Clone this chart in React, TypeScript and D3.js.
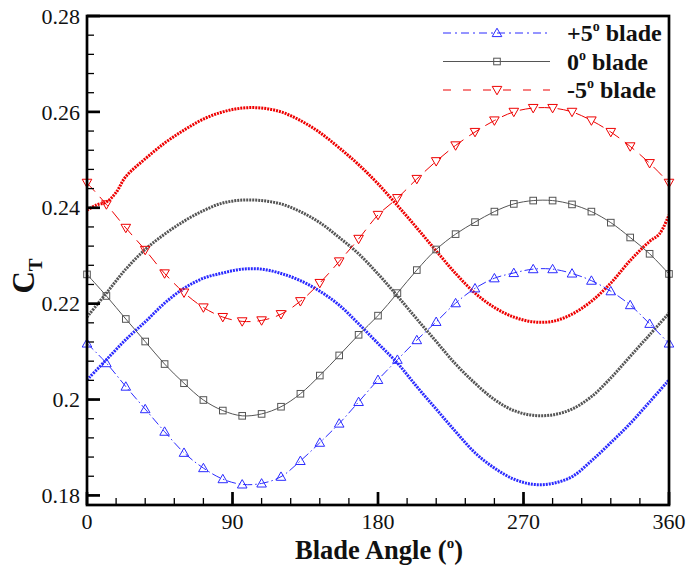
import React from "react";
import * as d3 from "d3";

// ---------- data ----------
const markerAngles = [0, 12, 24, 36, 48, 60, 72, 84, 96, 108, 120, 132, 144, 156, 168, 180, 192, 204, 216, 228, 240, 252, 264, 276, 288, 300, 312, 324, 336, 348, 360];

const plus5Blade = [0.2117, 0.2076, 0.2027, 0.198, 0.1933, 0.1889, 0.1857, 0.1834, 0.1823, 0.1825, 0.1839, 0.1872, 0.191, 0.195, 0.1995, 0.2041, 0.2083, 0.2124, 0.2162, 0.2201, 0.2232, 0.2253, 0.2264, 0.2272, 0.2272, 0.2263, 0.2248, 0.2226, 0.2197, 0.2158, 0.2117];
const zeroBlade = [0.2261, 0.2216, 0.2168, 0.2121, 0.2074, 0.2034, 0.1999, 0.1977, 0.1966, 0.197, 0.1985, 0.2012, 0.205, 0.2092, 0.2135, 0.2175, 0.2222, 0.227, 0.2313, 0.2345, 0.237, 0.2392, 0.2408, 0.2415, 0.2415, 0.2407, 0.2392, 0.2369, 0.2338, 0.2304, 0.2262];
const minus5Blade = [0.2452, 0.2407, 0.2358, 0.2312, 0.2263, 0.2223, 0.2192, 0.2172, 0.2163, 0.2165, 0.2178, 0.2205, 0.2243, 0.2288, 0.2335, 0.2385, 0.242, 0.246, 0.2497, 0.253, 0.2558, 0.2582, 0.26, 0.2608, 0.2608, 0.26, 0.2582, 0.2558, 0.2528, 0.2493, 0.2452];

const blueThickAngles = [0, 12, 24, 36, 48, 60, 72, 84, 96, 108, 120, 132, 144, 156, 168, 180, 192, 204, 216, 228, 240, 252, 264, 276, 288, 300, 312, 324, 336, 348, 360];
const blueThick = [0.2041, 0.2083, 0.2125, 0.2162, 0.2201, 0.2232, 0.2253, 0.2264, 0.2272, 0.2272, 0.2263, 0.2248, 0.2226, 0.2197, 0.2158, 0.2117, 0.2076, 0.2027, 0.198, 0.1933, 0.1889, 0.1857, 0.1834, 0.1823, 0.1825, 0.1839, 0.1872, 0.191, 0.195, 0.1995, 0.2041];

const grayThickAngles = [0, 12, 24, 36, 48, 60, 72, 84, 96, 108, 120, 132, 144, 156, 168, 180, 192, 204, 216, 228, 240, 252, 264, 276, 288, 300, 312, 324, 336, 348, 360];
const grayThick = [0.2172, 0.2222, 0.2272, 0.2313, 0.2345, 0.2372, 0.2394, 0.241, 0.2416, 0.2415, 0.2408, 0.2392, 0.2369, 0.2338, 0.2304, 0.2262, 0.2216, 0.2168, 0.2121, 0.2074, 0.2034, 0.2, 0.1977, 0.1967, 0.1968, 0.198, 0.2006, 0.2045, 0.209, 0.2135, 0.218];

const redThickAngles = [0, 6, 12, 18, 24, 36, 48, 60, 72, 84, 96, 108, 120, 132, 144, 156, 168, 180, 192, 204, 216, 228, 240, 252, 264, 276, 288, 300, 312, 324, 336, 348, 354, 360];
const redThick = [0.2395, 0.2406, 0.2412, 0.2432, 0.2465, 0.2502, 0.2535, 0.2562, 0.2585, 0.26, 0.2608, 0.2608, 0.26, 0.2582, 0.2557, 0.2525, 0.249, 0.245, 0.2405, 0.2358, 0.231, 0.2263, 0.2222, 0.2192, 0.2172, 0.2162, 0.2163, 0.2178, 0.2205, 0.2243, 0.229, 0.233, 0.2345, 0.2385];

const xTicks = [0, 90, 180, 270, 360];
const yTicks = [0.18, 0.2, 0.22, 0.24, 0.26, 0.28];
const yTickLabels = ["0.18", "0.2", "0.22", "0.24", "0.26", "0.28"];
const legendLabels = ["+5", "0", "-5"];

// ---------- layout ----------
const W = 692, H = 571;
const X0 = 87, X1 = 669, Y0 = 505, Y1 = 16;
const BLUE = "#2b2bff", GRAY = "#555555", RED = "#ee0000";
const SERIF = "'Liberation Serif', 'Times New Roman', serif";

export default function App() {
  const x = d3.scaleLinear().domain([0, 360]).range([X0, X1]);
  const y = d3.scaleLinear().domain([0.178, 0.28]).range([Y0, Y1]);
  const line = (angles: number[], vals: number[]) =>
    d3.line<number>().x((_, i) => x(angles[i])).y((v) => y(v)).curve(d3.curveCatmullRom.alpha(0.5))(vals) || "";

  const xMinor = d3.range(0, 361, 18);
  const yMinor = d3.range(0, 26).map((i) => 0.18 + i * 0.004).filter((v) => v <= 0.2801);

  const tri = (cx: number, cy: number, up: boolean, color: string, key: any) => {
    const s = 4.8;
    const pts = up
      ? [[cx, cy - s], [cx - s, cy + s * 0.75], [cx + s, cy + s * 0.75]]
      : [[cx, cy + s], [cx - s, cy - s * 0.75], [cx + s, cy - s * 0.75]];
    return <polygon key={key} points={pts.map((p) => p.join(",")).join(" ")} fill="none" stroke={color} strokeWidth={1} />;
  };
  const sq = (cx: number, cy: number, key: any) => (
    <rect key={key} x={cx - 3.3} y={cy - 3.3} width={6.6} height={6.6} fill="none" stroke={GRAY} strokeWidth={1} />
  );

  const legendRows = [
    { label: legendLabels[0], color: BLUE, dash: "8 4 2 4", marker: "up" },
    { label: legendLabels[1], color: GRAY, dash: "", marker: "sq" },
    { label: legendLabels[2], color: RED, dash: "8 12", marker: "down" },
  ];

  return (
    <svg width={W} height={H} style={{ position: "absolute", left: 0, top: 0, background: "#fff" }}>
      <defs>
        <clipPath id="plot">
          <rect x={X0} y={Y1} width={X1 - X0} height={Y0 - Y1} />
        </clipPath>
      </defs>
      <g clipPath="url(#plot)">
        {/* thick dotted curves */}
        <path d={line(blueThickAngles, blueThick)} fill="none" stroke={BLUE} strokeWidth={3} strokeDasharray="2 1" />
        <path d={line(grayThickAngles, grayThick)} fill="none" stroke={GRAY} strokeWidth={3} strokeDasharray="2 1" />
        <path d={line(redThickAngles, redThick)} fill="none" stroke={RED} strokeWidth={3} strokeDasharray="2 1" />
        {/* marker curves */}
        <path d={line(markerAngles, plus5Blade)} fill="none" stroke={BLUE} strokeWidth={1} strokeDasharray="9 3 1.5 3" />
        <path d={line(markerAngles, zeroBlade)} fill="none" stroke={GRAY} strokeWidth={1} />
        <path d={line(markerAngles, minus5Blade)} fill="none" stroke={RED} strokeWidth={1} strokeDasharray="12 7" />
      </g>
      {markerAngles.map((a, i) => tri(x(a), y(plus5Blade[i]), true, BLUE, "b" + i))}
      {markerAngles.map((a, i) => sq(x(a), y(zeroBlade[i]), "g" + i))}
      {markerAngles.map((a, i) => tri(x(a), y(minus5Blade[i]), false, RED, "r" + i))}

      {/* frame */}
      <rect x={X0} y={Y1} width={X1 - X0} height={Y0 - Y1} fill="none" stroke="#000" strokeWidth={2.7} />
      {/* y ticks */}
      {yMinor.map((v, i) => (
        <line key={"ym" + i} x1={X0} x2={X0 + 7} y1={y(v)} y2={y(v)} stroke="#000" strokeWidth={1.3} />
      ))}
      {yTicks.map((v, i) => (
        <line key={"yM" + i} x1={X0} x2={X0 + 13} y1={y(v)} y2={y(v)} stroke="#000" strokeWidth={2.7} />
      ))}
      {xMinor.map((v, i) => (
        <line key={"xm" + i} x1={x(v)} x2={x(v)} y1={Y0} y2={Y0 - 7} stroke="#000" strokeWidth={1.3} />
      ))}
      {xTicks.map((v, i) => (
        <line key={"xM" + i} x1={x(v)} x2={x(v)} y1={Y0} y2={Y0 - 13} stroke="#000" strokeWidth={2.7} />
      ))}
      {/* tick labels */}
      {yTicks.map((v, i) => (
        <text key={"yl" + i} x={80} y={y(v)} dy="0.35em" textAnchor="end" fontFamily={SERIF} fontSize={22} fill="#111">
          {yTickLabels[i]}
        </text>
      ))}
      {xTicks.map((v, i) => (
        <text key={"xl" + i} x={x(v)} y={529} textAnchor="middle" fontFamily={SERIF} fontSize={22} fill="#111">
          {v}
        </text>
      ))}
      {/* axis titles */}
      <text x={379} y={559} textAnchor="middle" fontFamily={SERIF} fontSize={26.5} fontWeight="bold" fill="#111">
        Blade Angle (<tspan fontSize={15} dy={-11}>o</tspan><tspan dy={11}>)</tspan>
      </text>
      <text transform="translate(34,276) rotate(-90)" textAnchor="middle" fontFamily={SERIF} fontSize={31} fontWeight="bold" fill="#111">
        C<tspan fontSize={19} dy={8}>T</tspan>
      </text>
      {/* legend */}
      {legendRows.map((r, i) => {
        const ly = 33 + i * 28.5;
        return (
          <g key={"lg" + i}>
            <line x1={443} x2={550} y1={ly} y2={ly} stroke={r.color} strokeWidth={1} strokeDasharray={r.dash} />
            {r.marker === "sq" ? sq(497, ly, "lsq") : tri(497, ly, r.marker === "up", r.color, "lt")}
            <text x={567} y={ly + 8} fontFamily={SERIF} fontSize={24} fontWeight="bold" fill="#111">
              {r.label}
              <tspan fontSize={14} dy={-10}>o</tspan>
              <tspan dy={10}> blade</tspan>
            </text>
          </g>
        );
      })}
    </svg>
  );
}
